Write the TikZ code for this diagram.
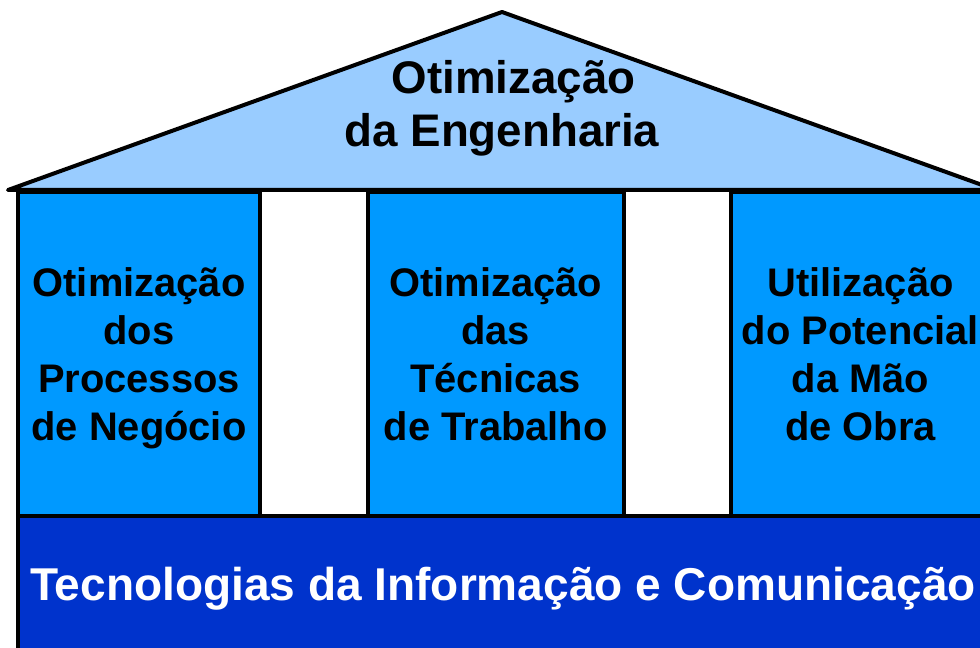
\documentclass[tikz,border=0pt]{standalone}
\usepackage{fontspec}
\setmainfont{Liberation Sans}
\definecolor{roofblue}{HTML}{99CCFF}
\definecolor{pillarblue}{HTML}{0099FF}
\definecolor{baseblue}{HTML}{0033CC}
\begin{document}
\begin{tikzpicture}[x=0.02cm, y=-0.02cm, every node/.style={align=center},
  pillar/.style={draw, line width=0.08cm, fill=pillarblue, minimum height=6.48cm, inner sep=0pt,
    text depth=0pt, font=\bfseries\fontsize{22.7}{27.2}\selectfont}]
\useasboundingbox (0,0) rectangle (980,648);

% roof
\draw[line width=0.08cm, line join=round, fill=roofblue] (8,190) -- (502,12) -- (996,190) -- cycle;
\node (eng) at (502,108) [font=\bfseries\fontsize{26}{30}\selectfont] {\hspace*{0.46cm}Otimização\\da Engenharia};

% pillars
\node (procs) [pillar, minimum width=4.84cm] at (139,354) {Otimização\\dos\\Processos\\de Negócio};
\node (tecnicas) [pillar, minimum width=5.13cm] at (495.75,354) {Otimização\\das\\Técnicas\\de Trabalho};
\node (obra) [pillar, minimum width=5.18cm] at (860.5,354) {Utilização\\do Potencial\\da Mão\\de Obra};

% foundation
\draw[line width=0.08cm, fill=baseblue] (18,516) rectangle (1000,700);
\node (tic) at (503,589) [text=white, font=\bfseries\fontsize{26.2}{30}\selectfont] {Tecnologias da Informação e Comunicação};
\end{tikzpicture}
\end{document}
